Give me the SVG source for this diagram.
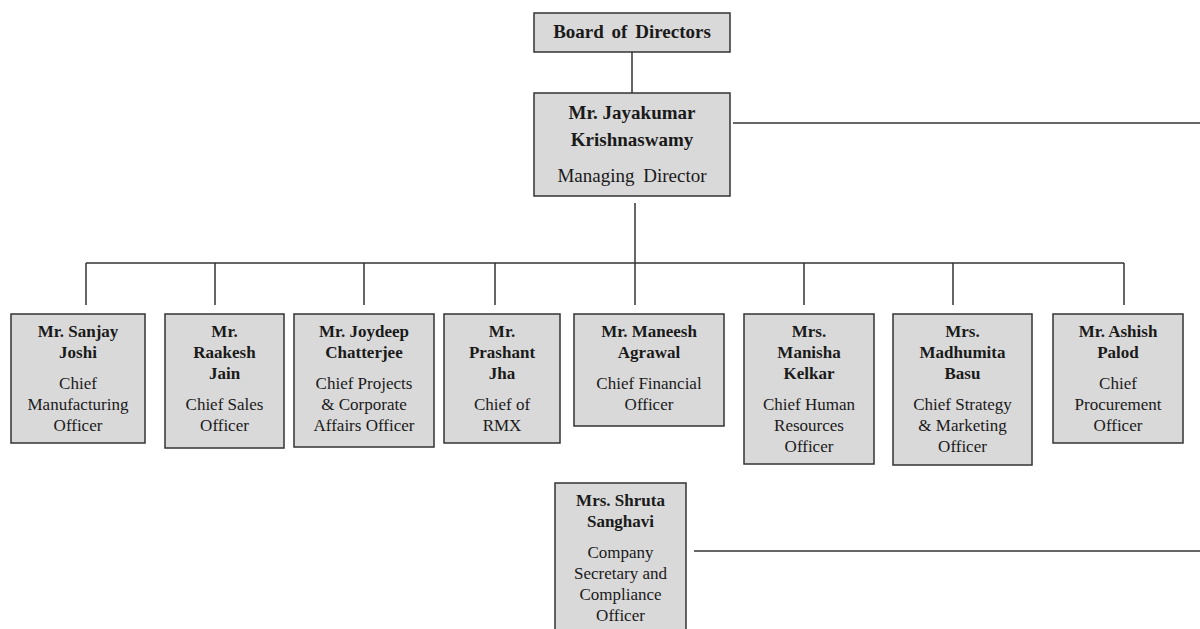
<svg xmlns="http://www.w3.org/2000/svg" width="1200" height="629" viewBox="0 0 1200 629">
<style>
.box{fill:#d9d9d9;stroke:#333;stroke-width:1.5}
.ln{stroke:#333;stroke-width:1.5;fill:none}
text{font-family:"Liberation Serif","Times New Roman",serif;fill:#1a1a1a;text-anchor:middle}
.b{font-weight:bold;font-size:17px}
.r{font-size:17px}
.bl{font-weight:bold;font-size:19px}
.rl{font-size:19px}
</style>
<rect width="1200" height="629" fill="#fff"/>
<g id="connectors">
<line class="ln" x1="632" y1="52" x2="632" y2="93"/>
<line class="ln" x1="733" y1="123" x2="1200" y2="123"/>
<line class="ln" x1="635" y1="203" x2="635" y2="263"/>
<line class="ln" x1="86" y1="263" x2="1124" y2="263"/>
<line class="ln" x1="86" y1="263" x2="86" y2="305"/>
<line class="ln" x1="215" y1="263" x2="215" y2="305"/>
<line class="ln" x1="364" y1="263" x2="364" y2="305"/>
<line class="ln" x1="495" y1="263" x2="495" y2="305"/>
<line class="ln" x1="635" y1="263" x2="635" y2="305"/>
<line class="ln" x1="804" y1="263" x2="804" y2="305"/>
<line class="ln" x1="953" y1="263" x2="953" y2="305"/>
<line class="ln" x1="1124" y1="263" x2="1124" y2="305"/>
<line class="ln" x1="694" y1="551" x2="1200" y2="551"/>
</g>
<g id="board">
<rect class="box" x="534" y="13" width="196" height="39"/>
<text class="bl" x="632" y="38" word-spacing="3">Board of Directors</text>
</g>
<g id="md">
<rect class="box" x="534" y="93" width="196" height="103"/>
<text class="bl" x="632" y="119">Mr. Jayakumar</text>
<text class="bl" x="632" y="146">Krishnaswamy</text>
<text class="rl" x="632" y="182" word-spacing="4">Managing Director</text>
</g>
<g id="cmo">
<rect class="box" x="11" y="314" width="134" height="129"/>
<text class="b" x="78" y="337">Mr. Sanjay</text>
<text class="b" x="78" y="358">Joshi</text>
<text class="r" x="78" y="389">Chief</text>
<text class="r" x="78" y="410">Manufacturing</text>
<text class="r" x="78" y="431">Officer</text>
</g>
<g id="cso">
<rect class="box" x="165" y="314" width="119" height="134"/>
<text class="b" x="224.5" y="337">Mr.</text>
<text class="b" x="224.5" y="358">Raakesh</text>
<text class="b" x="224.5" y="379">Jain</text>
<text class="r" x="224.5" y="410">Chief Sales</text>
<text class="r" x="224.5" y="431">Officer</text>
</g>
<g id="cpcao">
<rect class="box" x="294" y="314" width="140" height="133"/>
<text class="b" x="364" y="337">Mr. Joydeep</text>
<text class="b" x="364" y="358">Chatterjee</text>
<text class="r" x="364" y="389">Chief Projects</text>
<text class="r" x="364" y="410">&amp; Corporate</text>
<text class="r" x="364" y="431">Affairs Officer</text>
</g>
<g id="rmx">
<rect class="box" x="444" y="314" width="116" height="129"/>
<text class="b" x="502" y="337">Mr.</text>
<text class="b" x="502" y="358">Prashant</text>
<text class="b" x="502" y="379">Jha</text>
<text class="r" x="502" y="410">Chief of</text>
<text class="r" x="502" y="431">RMX</text>
</g>
<g id="cfo">
<rect class="box" x="574" y="314" width="150" height="112"/>
<text class="b" x="649" y="337">Mr. Maneesh</text>
<text class="b" x="649" y="358">Agrawal</text>
<text class="r" x="649" y="389">Chief Financial</text>
<text class="r" x="649" y="410">Officer</text>
</g>
<g id="chro">
<rect class="box" x="744" y="314" width="130" height="150"/>
<text class="b" x="809" y="337">Mrs.</text>
<text class="b" x="809" y="358">Manisha</text>
<text class="b" x="809" y="379">Kelkar</text>
<text class="r" x="809" y="410">Chief Human</text>
<text class="r" x="809" y="431">Resources</text>
<text class="r" x="809" y="452">Officer</text>
</g>
<g id="csmo">
<rect class="box" x="893" y="314" width="139" height="151"/>
<text class="b" x="962.5" y="337">Mrs.</text>
<text class="b" x="962.5" y="358">Madhumita</text>
<text class="b" x="962.5" y="379">Basu</text>
<text class="r" x="962.5" y="410">Chief Strategy</text>
<text class="r" x="962.5" y="431">&amp; Marketing</text>
<text class="r" x="962.5" y="452">Officer</text>
</g>
<g id="cpo">
<rect class="box" x="1053" y="314" width="130" height="129"/>
<text class="b" x="1118" y="337">Mr. Ashish</text>
<text class="b" x="1118" y="358">Palod</text>
<text class="r" x="1118" y="389">Chief</text>
<text class="r" x="1118" y="410">Procurement</text>
<text class="r" x="1118" y="431">Officer</text>
</g>
<g id="cs">
<rect class="box" x="555" y="483" width="131" height="160"/>
<text class="b" x="620.5" y="506">Mrs. Shruta</text>
<text class="b" x="620.5" y="527">Sanghavi</text>
<text class="r" x="620.5" y="558">Company</text>
<text class="r" x="620.5" y="579">Secretary and</text>
<text class="r" x="620.5" y="600">Compliance</text>
<text class="r" x="620.5" y="621">Officer</text>
</g>
</svg>
